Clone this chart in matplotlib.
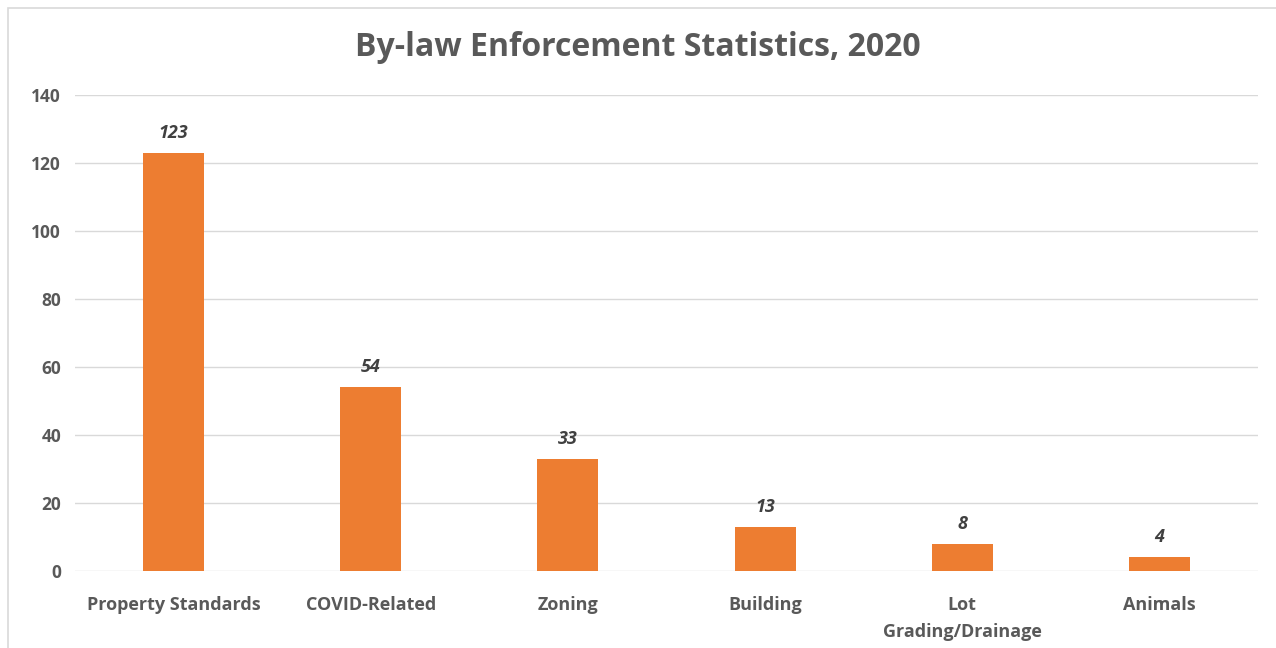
import matplotlib
matplotlib.use("Agg")
import matplotlib.pyplot as plt
from matplotlib.patches import Rectangle

categories = ["Property Standards", "COVID-Related", "Zoning", "Building", "Lot\nGrading/Drainage", "Animals"]
values = [123, 54, 33, 13, 8, 4]
yticks = [0, 20, 40, 60, 80, 100, 120, 140]
title = "By-law Enforcement Statistics, 2020"

plt.rcParams['font.family'] = ['Open Sans', 'DejaVu Sans']

fig = plt.figure(figsize=(12.76, 6.48), dpi=100)
fig.patches.append(Rectangle((8/1276, -0.01), 1.02, 1 - 8/648 + 0.01, transform=fig.transFigure,
                             fill=False, edgecolor="#D9D9D9", linewidth=1.2))
ax = fig.add_axes([75/1276, 1 - 571/648, (1258 - 75)/1276, (571 - 95)/648])

x = list(range(len(categories)))
bars = ax.bar(x, values, width=0.31, color="#ED7D31", zorder=3)
ax.set_xlim(-0.5, len(categories) - 0.5)
ax.set_ylim(0, 140)
ax.set_yticks(yticks)
ax.set_yticklabels([str(v) for v in yticks], fontsize=12.5, fontweight='bold', color="#595959")
ax.set_xticks(x)
ax.set_xticklabels(categories, fontsize=13, fontweight='bold', color="#595959", linespacing=1.65)
ax.tick_params(axis='both', length=0)
ax.tick_params(axis='x', pad=18)
ax.tick_params(axis='y', pad=10)
ax.grid(axis='y', color="#D9D9D9", linewidth=1, zorder=0)
for s in ax.spines.values():
    s.set_visible(False)

for xi, v in zip(x, values):
    ax.annotate(str(v), (xi, v), xytext=(0, 8), textcoords='offset points', ha='center', va='bottom',
                fontsize=13, fontweight='bold', fontstyle='italic', color="#404040")

fig.text(0.5, 1 - 47/648, title, ha='center', va='center', fontsize=23, fontweight='bold', color="#595959")

fig.savefig("out.png", dpi=100)
